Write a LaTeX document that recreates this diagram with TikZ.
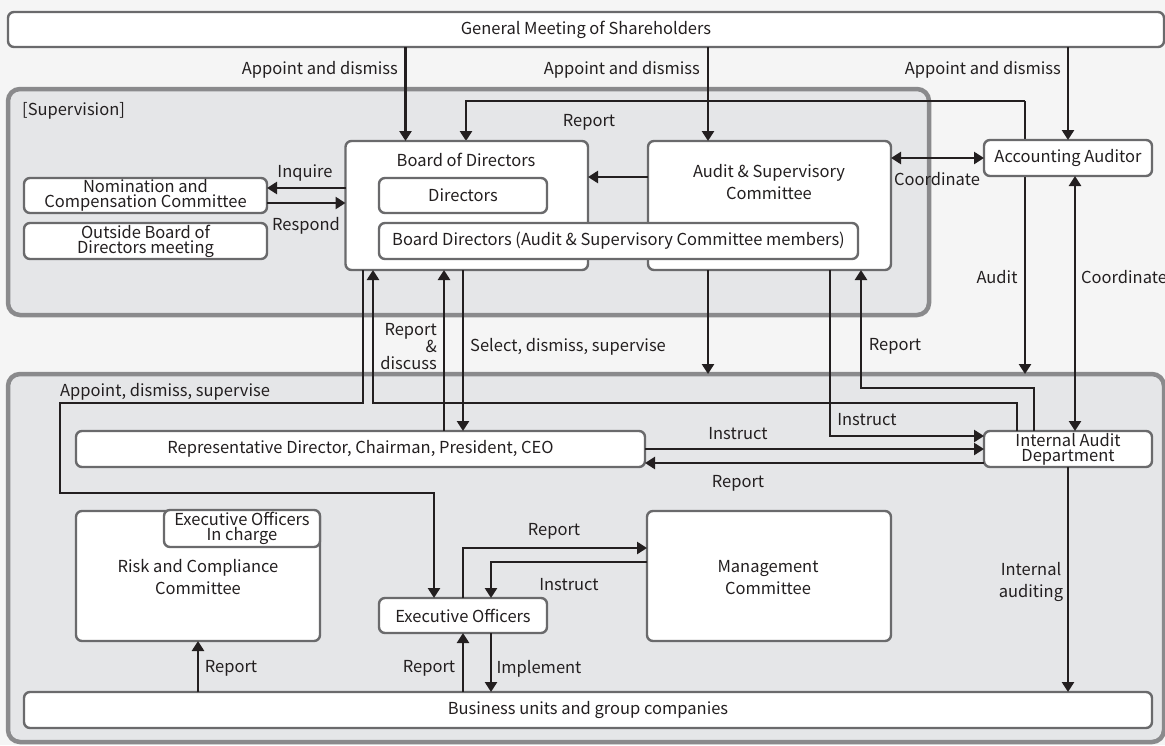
\documentclass[tikz,border=0pt]{standalone}
\usepackage{fontspec}
\setmainfont{Noto Sans CJK JP}
\usetikzlibrary{arrows.meta,calc}
\definecolor{bgcol}{HTML}{F5F5F5}
\definecolor{panelfill}{HTML}{E5E6E8}
\definecolor{panelborder}{HTML}{8A8A8C}
\definecolor{boxborder}{HTML}{6A6A6C}
\definecolor{ink}{HTML}{231F20}
\newcommand{\fs}{\fontsize{16.5}{20}\selectfont}
\tikzset{
  panel/.style={draw=panelborder, line width=4.5pt, fill=panelfill, rounded corners=12pt, inner sep=0pt, outer sep=0pt},
  box/.style={draw=boxborder, line width=2.4pt, fill=white, rounded corners=6pt, inner sep=0pt, outer sep=0pt, align=center, text=ink, font=\fs},
  lbl/.style={inner sep=0pt, text=ink, font=\fs, align=center, yshift=-1.5pt},
  tight/.style={font={\fontsize{16.5}{15}\selectfont}},
  loose/.style={font={\fontsize{16.5}{22}\selectfont}},
  arr/.style={draw=ink, line width=2.6pt, -{Triangle[length=10pt,width=12pt]}},
  dblarr/.style={draw=ink, line width=2.6pt, {Triangle[length=10pt,width=12pt]}-{Triangle[length=10pt,width=12pt]}},
}
\begin{document}
\begin{tikzpicture}[x=1pt,y=-1pt]
\useasboundingbox (0,0) rectangle (1165,745);
\fill[bgcol] (0,0) rectangle (1165,745);

% panels
\node[panel, minimum width=921pt, minimum height=226pt] (sup) at (468.5,202) {};
\node[panel, minimum width=1156pt, minimum height=368pt] (low) at (586,558) {};
\node[lbl, anchor=west] (suplbl) at (22,109) {[Supervision]};

% top box
\node[box, minimum width=1156pt, minimum height=35pt] (gm) at (586,29.5) {\raisebox{-1.5pt}{General Meeting of Shareholders}};

% line behind the Accounting Auditor box
\coordinate (rj) at (1025,101);
\draw[arr] (rj) -- (1025,0 |- low.north);
\draw[arr] (rj) -| (466,141);

% supervision boxes
\node[box, minimum width=242.5pt, minimum height=129pt] (bod) at (466.75,205.5) {};
\node[lbl] (bodt) at (466,158) {Board of Directors};
\node[box, minimum width=243pt, minimum height=129pt] (ac) at (769.5,205.5) {};
\node[lbl, loose] (act) at (769,181) {Audit \& Supervisory\\Committee};
\node[box, minimum width=168pt, minimum height=35pt] (dirs) at (463,195.5) {Directors};
\node[box, minimum width=479pt, minimum height=36pt] (bdac) at (618.5,241) {Board Directors (Audit \& Supervisory Committee members)};
\node[box, minimum width=168pt, minimum height=36pt] (aa) at (1068,158) {Accounting Auditor};
\node[box, tight, minimum width=243pt, minimum height=35pt] (nom) at (145.5,195.5) {Nomination and\\Compensation Committee};
\node[box, tight, minimum width=243pt, minimum height=36pt] (out) at (145.5,241) {Outside Board of\\Directors meeting};

% lower boxes
\node[box, minimum width=569pt, minimum height=36pt] (rep) at (360.5,449) {Representative Director, Chairman, President, CEO};
\node[box, tight, minimum width=168pt, minimum height=36pt] (iad) at (1068,449) {Internal Audit\\Department};
\node[box, minimum width=244pt, minimum height=130pt] (risk) at (198,576) {};
\node[lbl, loose] (riskt) at (198,576) {Risk and Compliance\\Committee};
\node[box, tight, minimum width=156pt, minimum height=37pt] (eoic) at (242,528.5) {Executive Officers\\In charge};
\node[box, minimum width=244pt, minimum height=130pt] (mgmt) at (769,576) {};
\node[lbl, loose] (mgmtt) at (768,576) {Management\\Committee};
\node[box, minimum width=168pt, minimum height=35pt] (eo) at (463,615.5) {Executive Officers};
\node[box, minimum width=1128pt, minimum height=36pt] (bu) at (588,710) {Business units and group companies};

% shareholders
\draw[arr] (405.5,0 |- gm.south) -- (405.5,0 |- bod.north);
\draw[arr] (708,0 |- gm.south) -- (708,0 |- ac.north);
\draw[arr] (1068,0 |- gm.south) -- (1068,0 |- aa.north);
\node[lbl, anchor=east] at (398,68) {Appoint and dismiss};
\node[lbl, anchor=east] at (700,68) {Appoint and dismiss};
\node[lbl, anchor=east] at (1061,68) {Appoint and dismiss};
\node[lbl] at (589,121) {Report};

% supervision arrows
\draw[arr] (bod.west |- 0,188) -- (nom.east |- 0,188);
\draw[arr] (nom.east |- 0,203) -- (bod.west |- 0,203);
\node[lbl] at (305,171) {Inquire};
\node[lbl] at (306,224) {Respond};
\draw[arr] (ac.west |- 0,177) -- (bod.east |- 0,177);
\draw[dblarr] (ac.east |- 0,158) -- (aa.west |- 0,158);
\node[lbl] at (937,178) {Coordinate};
\draw[dblarr] (1075,0 |- aa.south) -- (1075,0 |- iad.north);
\node[lbl] at (997,276) {Audit};
\node[lbl, anchor=west] at (1081,276) {Coordinate};

% board to executive side
\draw[arr] (363,0 |- bod.south) -- (363,403) -- (60,403) -- (60,493) -- (434,493) -- (434,0 |- eo.north);
\node[lbl, anchor=west] at (60,390) {Appoint, dismiss, supervise};
\draw[arr] (1017,0 |- iad.north) -- (1017,403) -- (373,403) -- (373,0 |- bod.south);
\draw[arr] (444,0 |- rep.north) -- (444,0 |- bod.south);
\node[lbl, anchor=east, align=right, font={\fontsize{16.5}{17}\selectfont}] at (437,345) {Report\\\&\\discuss};
\draw[arr] (463,0 |- bod.south) -- (463,0 |- rep.north);
\node[lbl, anchor=west] at (470,345) {Select, dismiss, supervise};
\draw[arr] (708,0 |- ac.south) -- (708,0 |- low.north);
\draw[arr] (830,0 |- ac.south) |- (iad.west |- 0,436);
\node[lbl] at (867,418) {Instruct};
\draw[arr] (1034,0 |- iad.north) |- (861,388) -- (861,0 |- ac.south);
\node[lbl] at (895,345) {Report};

% representative and internal audit
\draw[arr] (rep.east |- 0,449) -- (iad.west |- 0,449);
\node[lbl] at (738,432) {Instruct};
\draw[arr] (iad.west |- 0,463) -- (rep.east |- 0,463);
\node[lbl] at (738,482) {Report};

% executive officers and management committee
\draw[arr] (463,0 |- eo.north) |- (mgmt.west |- 0,548);
\node[lbl] at (554,530) {Report};
\draw[arr] (mgmt.west |- 0,562) -| (491,0 |- eo.north);
\node[lbl] at (569,583) {Instruct};

% business units
\draw[arr] (463,0 |- bu.north) -- (463,0 |- eo.south);
\node[lbl] at (429,667) {Report};
\draw[arr] (491,0 |- eo.south) -- (491,0 |- bu.north);
\node[lbl] at (539,667) {Implement};
\draw[arr] (198,0 |- bu.north) -- (198,0 |- risk.south);
\node[lbl] at (231,667) {Report};
\draw[arr] (1068,0 |- iad.south) -- (1068,0 |- bu.north);
\node[lbl, loose] at (1031,580) {Internal\\auditing};
\end{tikzpicture}
\end{document}
